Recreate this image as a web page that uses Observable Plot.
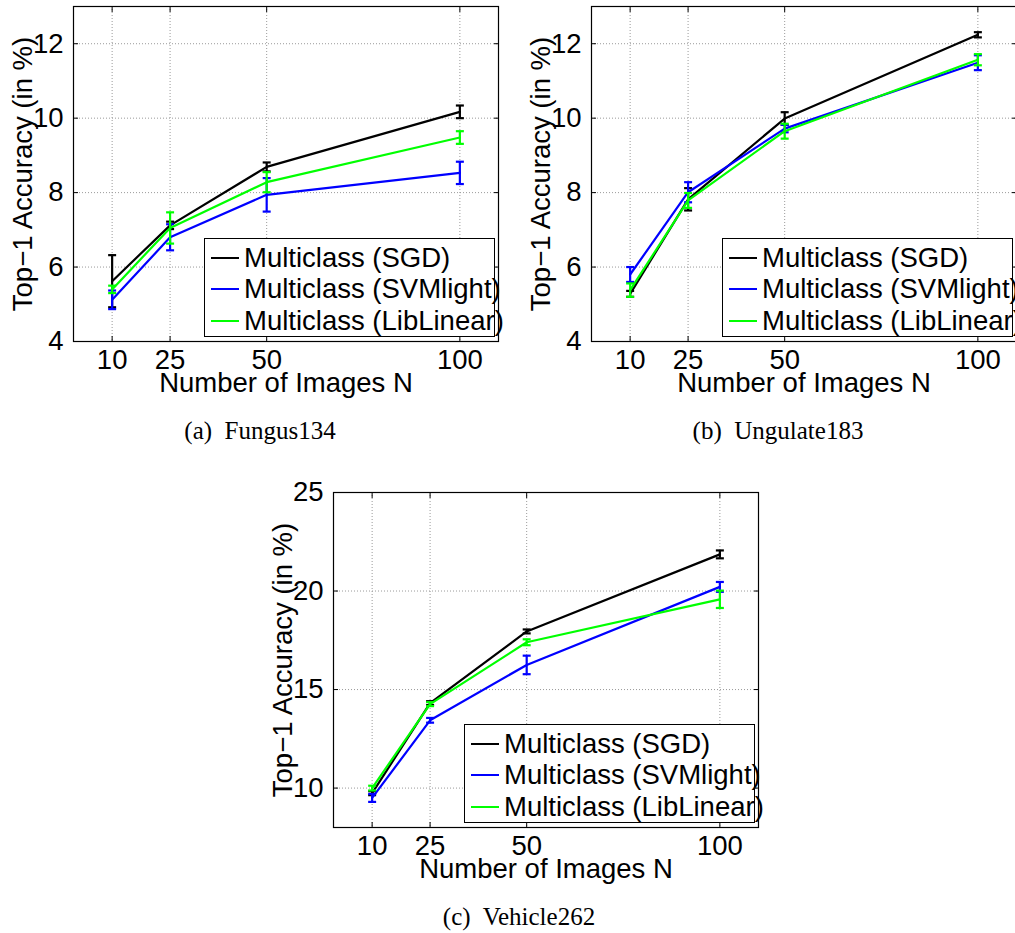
<!DOCTYPE html>
<html>
<head>
<meta charset="utf-8">
<script src="https://cdn.jsdelivr.net/npm/d3@7"></script>
<script src="https://cdn.jsdelivr.net/npm/@observablehq/plot@0.6"></script>
<style>
  html, body { margin: 0; padding: 0; background: #fff; }
  body { width: 1015px; height: 933px; overflow: hidden; position: relative; }
  .panel { position: absolute; width: 510px; height: 400px; }
  .panel svg { position: absolute; left: 0; top: 0; overflow: visible; }
  .legend { position: absolute; left: 204px; top: 238px; width: 289px; height: 97px;
            border: 1px solid #000; background: #fff; box-sizing: content-box; }
  .row { position: absolute; left: 0; height: 32px; display: flex; align-items: center;
         white-space: nowrap; font-family: "Liberation Sans", Arial, sans-serif; font-size: 27.5px; color: #000; }
  .swatch { display: inline-block; width: 28px; height: 2px; margin-left: 6px; margin-right: 5px; }
  .caption { position: absolute; font-family: "Liberation Serif", "Times New Roman", serif; font-size: 25px;
             line-height: 25px; white-space: pre; transform: translateX(-50%); color: #000; }
</style>
</head>
<body>
<script>
// ---- data ----
const N = [10, 25, 50, 100];
const seriesNames = ["Multiclass (SGD)", "Multiclass (SVMlight)", "Multiclass (LibLinear)"];
const seriesColors = ["#000000", "#0000ff", "#00ff00"];

// (a) Fungus134
const fungusSGD = [5.62, 7.12, 8.69, 10.17];
const fungusSGDErr = [0.70, 0.10, 0.12, 0.17];
const fungusSVM = [5.12, 6.80, 7.94, 8.53];
const fungusSVMErr = [0.25, 0.35, 0.45, 0.30];
const fungusLib = [5.40, 7.05, 8.28, 9.48];
const fungusLibErr = [0.10, 0.42, 0.27, 0.17];

// (b) Ungulate183
const ungulateSGD = [5.28, 7.82, 9.99, 12.24];
const ungulateSGDErr = [0.08, 0.30, 0.17, 0.07];
const ungulateSVM = [5.80, 8.01, 9.72, 11.49];
const ungulateSVMErr = [0.20, 0.27, 0.10, 0.20];
const ungulateLib = [5.38, 7.79, 9.65, 11.57];
const ungulateLibErr = [0.18, 0.20, 0.20, 0.15];

// (c) Vehicle262
const vehicleSGD = [9.74, 14.31, 17.95, 21.86];
const vehicleSGDErr = [0.10, 0.10, 0.10, 0.20];
const vehicleSVM = [9.50, 13.44, 16.25, 20.21];
const vehicleSVMErr = [0.20, 0.12, 0.47, 0.25];
const vehicleLib = [10.00, 14.26, 17.40, 19.58];
const vehicleLibErr = [0.12, 0.10, 0.15, 0.44];

const xDomain = [0, 110];
const yDomainAB = [4, 13];
const yTicksAB = [4, 6, 8, 10, 12];
const yDomainC = [8, 25];
const yTicksC = [10, 15, 20, 25];

const xLabel = "Number of Images N";
const yLabel = "Top\u22121 Accuracy (in %)";
const captions = ["(a)  Fungus134", "(b)  Ungulate183", "(c)  Vehicle262"];

// ---- drawing ----
const cap = { draw(ctx) { ctx.moveTo(-4, 0); ctx.lineTo(4, 0); } };

function makePanel(vals, errs, yDomain, yTicks) {
  const marks = [
    Plot.gridX(N, { stroke: "#9a9a9a", strokeOpacity: 1, strokeDasharray: "1,2" }),
    Plot.gridY(yTicks, { stroke: "#9a9a9a", strokeOpacity: 1, strokeDasharray: "1,2" })
  ];
  seriesNames.forEach((name, i) => {
    const rows = N.map((n, j) => ({ n, v: vals[i][j], e: errs[i][j] }));
    const stroke = seriesColors[i];
    marks.push(
      Plot.line(rows, { x: "n", y: "v", stroke, strokeWidth: 2.2 }),
      Plot.ruleX(rows, { x: "n", y1: d => d.v - d.e, y2: d => d.v + d.e, stroke, strokeWidth: 2.2 }),
      Plot.dot(rows, { x: "n", y: d => d.v + d.e, symbol: cap, r: 4, fill: "none", stroke, strokeWidth: 2.2 }),
      Plot.dot(rows, { x: "n", y: d => d.v - d.e, symbol: cap, r: 4, fill: "none", stroke, strokeWidth: 2.2 })
    );
  });
  marks.push(
    Plot.frame({ stroke: "#000", strokeWidth: 1.2 }),
    Plot.axisX(N, { anchor: "bottom", tickSize: -5, fill: "none", stroke: "#000" }),
    Plot.axisX(N, { anchor: "top", tickSize: -5, fill: "none", stroke: "#000" }),
    Plot.axisY(yTicks, { anchor: "left", tickSize: -5, fill: "none", stroke: "#000" }),
    Plot.axisY(yTicks, { anchor: "right", tickSize: -5, fill: "none", stroke: "#000" }),
    Plot.axisX(N, { anchor: "bottom", tickSize: 0, tickPadding: 8, label: null, fill: "#000" }),
    Plot.axisY(yTicks, { anchor: "left", tickSize: 0, tickPadding: 10, label: null, fill: "#000" }),
    Plot.text([xLabel], { frameAnchor: "bottom", dy: 42, textAnchor: "middle", lineAnchor: "middle", text: d => d, fill: "#000" }),
    Plot.text([yLabel], { frameAnchor: "left", dx: -50, rotate: -90, textAnchor: "middle", lineAnchor: "middle", text: d => d, fill: "#000" })
  );
  return Plot.plot({
    width: 510,
    height: 400,
    marginLeft: 73,
    marginRight: 12,
    marginTop: 6,
    marginBottom: 59,
    x: { domain: xDomain, type: "linear" },
    y: { domain: yDomain, type: "linear" },
    style: { fontFamily: "'Liberation Sans', Arial, sans-serif", fontSize: "27.5px", background: "transparent", color: "#000", overflow: "visible" },
    marks
  });
}

function addPanel(left, top, vals, errs, yDomain, yTicks) {
  const div = document.createElement("div");
  div.className = "panel";
  div.style.left = left + "px";
  div.style.top = top + "px";
  div.appendChild(makePanel(vals, errs, yDomain, yTicks));
  const legend = document.createElement("div");
  legend.className = "legend";
  seriesNames.forEach((name, i) => {
    const row = document.createElement("div");
    row.className = "row";
    row.style.top = [3, 34, 66][i] + "px";
    const sw = document.createElement("span");
    sw.className = "swatch";
    sw.style.background = seriesColors[i];
    const tx = document.createElement("span");
    tx.textContent = name;
    row.appendChild(sw);
    row.appendChild(tx);
    legend.appendChild(row);
  });
  div.appendChild(legend);
  document.body.appendChild(div);
}

addPanel(0, 0, [fungusSGD, fungusSVM, fungusLib], [fungusSGDErr, fungusSVMErr, fungusLibErr], yDomainAB, yTicksAB);
addPanel(518, 0, [ungulateSGD, ungulateSVM, ungulateLib], [ungulateSGDErr, ungulateSVMErr, ungulateLibErr], yDomainAB, yTicksAB);
addPanel(260, 486, [vehicleSGD, vehicleSVM, vehicleLib], [vehicleSGDErr, vehicleSVMErr, vehicleLibErr], yDomainC, yTicksC);

[[260, 418], [778, 418], [519, 904]].forEach(([x, y], i) => {
  const c = document.createElement("div");
  c.className = "caption";
  c.style.left = x + "px";
  c.style.top = y + "px";
  c.textContent = captions[i];
  document.body.appendChild(c);
});
</script>
</body>
</html>
